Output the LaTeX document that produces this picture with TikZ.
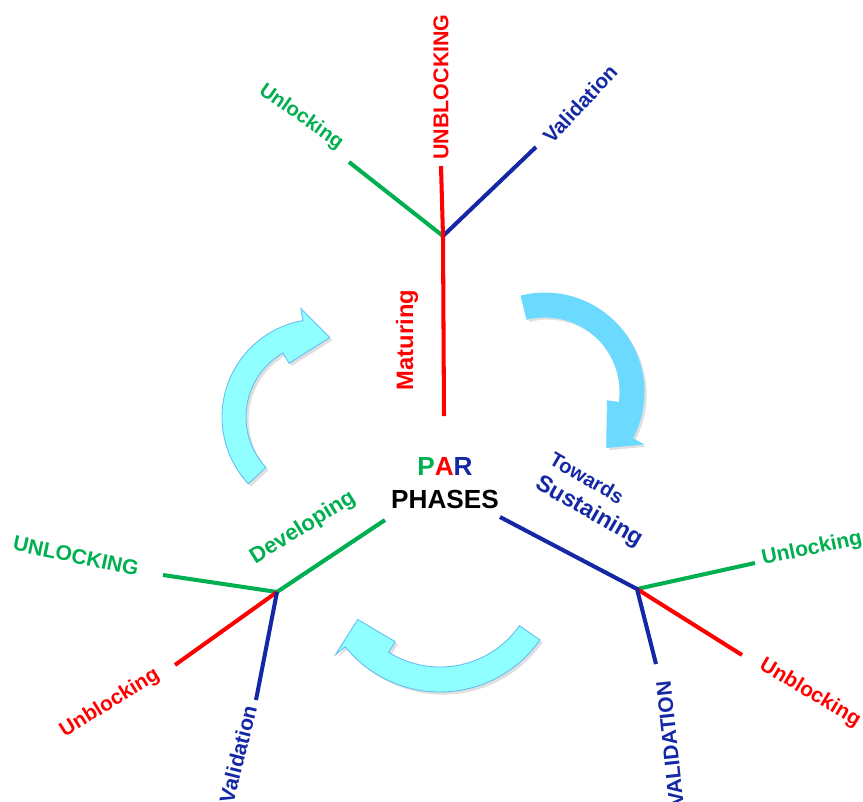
\documentclass[tikz,border=0pt]{standalone}
\usepackage{fontspec}
\setmainfont{Liberation Sans}
\usetikzlibrary{shadows}
\definecolor{parGreen}{RGB}{0,176,80}
\definecolor{parRed}{RGB}{255,0,0}
\definecolor{parBlue}{RGB}{20,40,165}
\definecolor{cyanA}{RGB}{143,255,255}
\definecolor{cyanB}{RGB}{108,218,255}
\definecolor{cyanEdge}{RGB}{100,190,240}
\def\bentarrow[#1](#2)(#3:#4:#5)(#6:#7)(#8:#9){%
	\begin{scope}[shift={(#2)}]
		\filldraw[#1] plot[domain=#3:#4,samples=40] (\x:#7)
			-- (#4:{1.5*#7-0.5*#6}) -- (#8:#9) -- (#5:{1.5*#6-0.5*#7})
			-- plot[domain=#5:#3,samples=40] (\x:#6) -- cycle;
	\end{scope}}

\begin{document}
\begin{tikzpicture}[x=0.02cm,y=-0.02cm,
		branch/.style={line width=2.3pt},
		lbl/.style={font=\bfseries\fontsize{#1}{#1}\selectfont,inner sep=0pt},
		lightarrow/.style={fill=cyanA,draw=cyanEdge,line width=0.5pt,
			drop shadow={opacity=0.25,shadow xshift=1.5pt,shadow yshift=-1.5pt}},
		deeparrow/.style={fill=cyanB,draw=cyanB,line width=0.5pt,
			drop shadow={opacity=0.25,shadow xshift=1.5pt,shadow yshift=-1.5pt}}]
			%%%%% START %%%%%
			\useasboundingbox (0,0) rectangle (863,802);
			
			% turning arrows
			\bentarrow[lightarrow](320,417)(137:260:240)(74:98)(277:80)
			\bentarrow[deeparrow](545,392)(256:388:368)(75:99)(42:83)
			\bentarrow[lightarrow](440,570)(35:141:122)(97:122)(149:96)
			
			% top tree
			\coordinate (topJ) at (443,236);
			\coordinate (topG) at (349,162);
			\coordinate (topB) at (536,147);
			\coordinate (topR) at (441,166);
			\coordinate (matEnd) at (444,416);
			\draw[branch,parGreen] (topG) -- (topJ);
			\draw[branch,parBlue] (topB) -- (topJ);
			\draw[branch,parRed] (topR) -- (topJ) -- (matEnd);
			
			% left tree
			\coordinate (leftJ) at (277,592);
			\coordinate (devEnd) at (385,520);
			\coordinate (leftG) at (163,575);
			\coordinate (leftR) at (175,665);
			\coordinate (leftB) at (256,700);
			\draw[branch,parGreen] (leftG) -- (leftJ) -- (devEnd);
			\draw[branch,parRed] (leftR) -- (leftJ);
			\draw[branch,parBlue] (leftJ) -- (leftB);
			
			% right tree
			\coordinate (rightJ) at (637,589);
			\coordinate (susEnd) at (500,517);
			\coordinate (rightG) at (755,563);
			\coordinate (rightR) at (742,655);
			\coordinate (rightB) at (656,664);
			\draw[branch,parGreen] (rightJ) -- (rightG);
			\draw[branch,parRed] (rightJ) -- (rightR);
			\draw[branch,parBlue] (susEnd) -- (rightJ) -- (rightB);
			
			% labels
			\node[lbl=12.2,text=parRed,rotate=90] (unblockTop) at (441,87) {UNBLOCKING};
			\node[lbl=11.5,text=parGreen,rotate=-35] (unlockTop) at (301,117) {Unlocking};
			\node[lbl=11.8,text=parBlue,rotate=47] (validTop) at (580,104) {Validation};
			\node[lbl=13.5,text=parRed,rotate=90] (maturing) at (407,340) {Maturing};
			\node[lbl=14.9] (par) at (445,466) {\textcolor{parGreen}{P}\textcolor{parRed}{A}\textcolor{parBlue}{R}};
			\node[lbl=14.9] (phases) at (445,499) {PHASES};
			\node[lbl=12.6,text=parGreen,rotate=32] (developing) at (303,528) {Developing};
			\node[lbl=11.5,text=parBlue,rotate=-30] (towards) at (587,478) {Towards};
			\node[lbl=13.3,text=parBlue,rotate=-30] (sustaining) at (589,512) {Sustaining};
			\node[lbl=12,text=parGreen,rotate=-12] (unlockLeft) at (76,556) {UNLOCKING};
			\node[lbl=11.8,text=parRed,rotate=32] (unblockLeft) at (110,703) {Unblocking};
			\node[lbl=12,text=parBlue,rotate=76] (validLeft) at (238,754) {Validation};
			\node[lbl=12,text=parGreen,rotate=12] (unlockRight) at (812,549) {Unlocking};
			\node[lbl=11.9,text=parRed,rotate=-31] (unblockRight) at (810,693) {Unblocking};
			\node[lbl=12,text=parBlue,rotate=96] (validRight) at (670,744) {VALIDATION};
			%%%%% END %%%%%
\end{tikzpicture}
\end{document}
